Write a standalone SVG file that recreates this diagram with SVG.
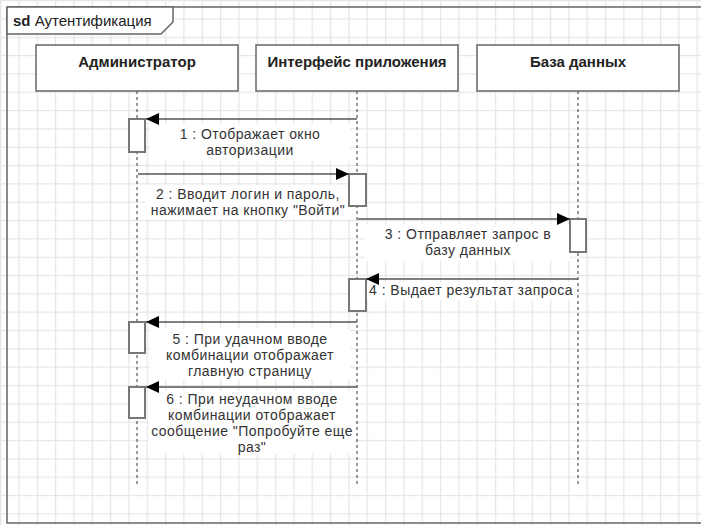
<svg xmlns="http://www.w3.org/2000/svg" width="701" height="525" viewBox="0 0 701 525">
<defs>
<pattern id="grid" width="18.33" height="18.33" patternUnits="userSpaceOnUse">
<path d="M0.5,0 V18.33 M0,0.5 H18.33" fill="none" stroke="#e6e6e6" stroke-width="1.6"/>
</pattern>
<marker id="ah" markerWidth="14" markerHeight="12" refX="13" refY="6" orient="auto" markerUnits="userSpaceOnUse">
<path d="M0,0 L13,6 L0,12 Z" fill="#000"/>
</marker>
</defs>
<style>
.head{fill:#fff;stroke:#666;stroke-width:1.5}
.ht{font-family:"Liberation Sans",Arial,sans-serif;font-size:15px;font-weight:bold;fill:#222;text-anchor:middle}
.life{stroke:#333;stroke-width:1;stroke-dasharray:3,3}
.act{fill:#fff;stroke:#777;stroke-width:2}
.msg{stroke:#555;stroke-width:1.5;fill:none;marker-end:url(#ah)}
.lbg{fill:#fff}
.lt{font-family:"Liberation Sans",Arial,sans-serif;font-size:14px;letter-spacing:0.45px;fill:#333;text-anchor:middle}
</style>
<rect width="701" height="525" fill="#fff"/>
<rect width="701" height="525" fill="url(#grid)"/>
<g id="frame">
<path d="M7,7 H705 M7,7 V523 H705" fill="none" stroke="#666" stroke-width="1.5"/>
<path d="M7,7 H173 V22 L161,34 H7 Z" fill="#fff" stroke="#666" stroke-width="1.5"/>
<text x="13" y="26" font-family="Liberation Sans,Arial,sans-serif" font-size="15" fill="#222"><tspan font-weight="bold">sd</tspan> Аутентификация</text>
</g>
<g id="labels-bg">
<rect class="lbg" x="150" y="124" width="200" height="37"/>
<rect class="lbg" x="145" y="185" width="205" height="34"/>
<rect class="lbg" x="365" y="224" width="205" height="37"/>
<rect class="lbg" x="367" y="282" width="209" height="18"/>
<rect class="lbg" x="150" y="329" width="200" height="50"/>
<rect class="lbg" x="148" y="391" width="207" height="63"/>
</g>
<g id="lifelines">
<line class="life" x1="137" y1="91" x2="137" y2="487"/>
<line class="life" x1="357" y1="91" x2="357" y2="487"/>
<line class="life" x1="578" y1="91" x2="578" y2="487"/>
</g>
<g id="admin">
<rect class="head" x="36" y="45" width="202" height="46"/>
<text class="ht" x="137" y="67">Администратор</text>
</g>
<g id="iface">
<rect class="head" x="256" y="45" width="202" height="46"/>
<text class="ht" x="357" y="67">Интерфейс приложения</text>
</g>
<g id="db">
<rect class="head" x="477" y="45" width="202" height="46"/>
<text class="ht" x="578" y="67">База данных</text>
</g>
<g id="activations">
<rect class="act" x="129" y="119" width="16" height="33"/>
<rect class="act" x="349" y="174" width="17" height="32"/>
<rect class="act" x="570" y="219" width="16" height="33"/>
<rect class="act" x="349" y="279" width="17" height="32"/>
<rect class="act" x="129" y="322" width="16" height="31"/>
<rect class="act" x="129" y="387" width="16" height="31"/>
</g>
<g id="connectors">
<line class="msg" x1="357" y1="119" x2="146" y2="119"/>
<line class="msg" x1="138" y1="174" x2="349" y2="174"/>
<line class="msg" x1="358" y1="219" x2="570" y2="219"/>
<line class="msg" x1="578" y1="279" x2="366" y2="279"/>
<line class="msg" x1="357" y1="322" x2="146" y2="322"/>
<line class="msg" x1="357" y1="387" x2="146" y2="387"/>
</g>
<g id="message-labels">
<text class="lt" x="250" y="139">1 : Отображает окно</text>
<text class="lt" x="250" y="155">авторизации</text>
<text class="lt" x="248" y="199">2 : Вводит логин и пароль,</text>
<text class="lt" x="248" y="215">нажимает на кнопку "Войти"</text>
<text class="lt" x="468" y="239">3 : Отправляет запрос в</text>
<text class="lt" x="468" y="255">базу данных</text>
<text class="lt" x="471" y="295">4 : Выдает результат запроса</text>
<text class="lt" x="250" y="344">5 : При удачном вводе</text>
<text class="lt" x="250" y="360">комбинации отображает</text>
<text class="lt" x="250" y="376">главную страницу</text>
<text class="lt" x="252" y="404">6 : При неудачном вводе</text>
<text class="lt" x="252" y="420">комбинации отображает</text>
<text class="lt" x="252" y="436">сообщение "Попробуйте еще</text>
<text class="lt" x="252" y="452">раз"</text>
</g>
</svg>
